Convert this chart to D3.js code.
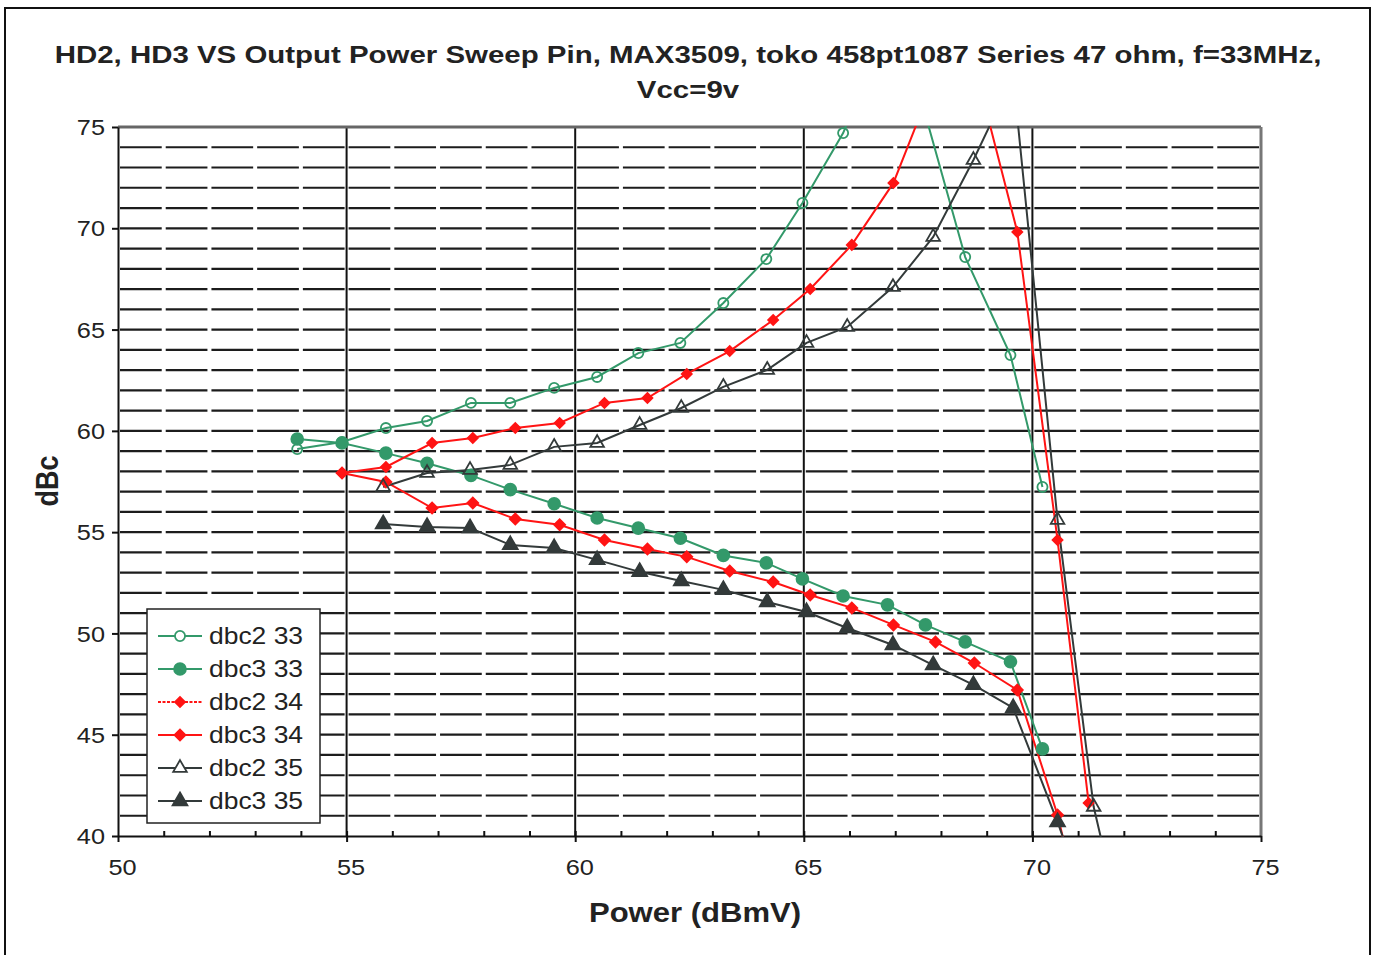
<!DOCTYPE html>
<html>
<head>
<meta charset="utf-8">
<title>HD2, HD3 vs Output Power</title>
<script src="https://cdn.jsdelivr.net/npm/d3@7/dist/d3.min.js"></script>
<style>
	body { margin: 0; background: #fff; }
	text { font-family: "Liberation Sans", Arial, sans-serif; fill: #222; }
	.title, .axis-title { font-weight: bold; }
</style>
</head>
<body>
<script>
// ---- data ----
var titleLines = ["HD2, HD3 VS Output Power Sweep Pin, MAX3509, toko 458pt1087 Series 47 ohm, f=33MHz,", "Vcc=9v"];
var xTicks = [50, 55, 60, 65, 70, 75];
var yTicks = [40, 45, 50, 55, 60, 65, 70, 75];

var pwr33 = [53.92, 54.90, 55.86, 56.76, 57.72, 58.58, 59.54, 60.48, 61.38, 62.30, 63.24, 64.18, 64.97, 65.86, 66.83, 67.66, 68.53, 69.52, 70.22];
var dbc2_33 = [59.1, 59.45, 60.14, 60.49, 61.38, 61.38, 62.12, 62.66, 63.84, 64.34, 66.31, 68.48, 71.25, 74.70, 80.0, 75.6, 68.58, 63.74, 57.23];
var dbc3_33 = [59.6, 59.4, 58.9, 58.4, 57.8, 57.1, 56.4, 55.7, 55.2, 54.7, 53.85, 53.48, 52.69, 51.85, 51.41, 50.42, 49.58, 48.6, 44.3];

var pwr34 = [54.90, 55.86, 56.87, 57.76, 58.69, 59.66, 60.64, 61.58, 62.44, 63.38, 64.33, 65.14, 66.05, 66.96, 67.88, 68.73, 69.67, 70.55, 71.23];
var dbc2_34 = [57.92, 58.22, 59.40, 59.65, 60.14, 60.39, 61.38, 61.62, 62.81, 63.94, 65.47, 67.00, 69.18, 72.24, 77.5, 78.1, 69.82, 54.61, 41.63];
var dbc3_34 = [57.92, 57.48, 56.19, 56.44, 55.65, 55.36, 54.61, 54.17, 53.78, 53.08, 52.54, 51.90, 51.26, 50.42, 49.58, 48.54, 47.21, 41.04, 34.6];

var pwr35 = [55.80, 56.76, 57.70, 58.58, 59.54, 60.48, 61.41, 62.32, 63.24, 64.20, 65.06, 65.95, 66.95, 67.83, 68.71, 69.58, 70.55, 71.34, 72.1];
var dbc2_35 = [57.23, 57.92, 58.07, 58.32, 59.21, 59.40, 60.29, 61.13, 62.17, 63.01, 64.34, 65.13, 67.10, 69.57, 73.37, 77.5, 55.6, 41.44, 34.1];
var dbc3_35 = [55.4, 55.26, 55.2, 54.37, 54.22, 53.63, 53.04, 52.59, 52.15, 51.55, 51.06, 50.27, 49.43, 48.44, 47.46, 46.32, 40.69, 35.7];

var seriesNames = ["dbc2 33", "dbc3 33", "dbc2 34", "dbc3 34", "dbc2 35", "dbc3 35"];

// ---- layout ----
var width = 1373, height = 955;
var mLeft = 118, mRight = 1261, mTop = 127, mBottom = 836;
var sx = 1.15; // glyphs in the picture are a bit wider than the font

var green = "#33996a", red = "#ff1414", dark = "#333a3a";

var series = [
	{ name: seriesNames[0], x: pwr33, y: dbc2_33, color: green, shape: "circle", open: true, size: 80, legendDash: null },
	{ name: seriesNames[1], x: pwr33, y: dbc3_33, color: green, shape: "circle", open: false, size: 110, legendDash: null },
	{ name: seriesNames[2], x: pwr34, y: dbc2_34, color: red, shape: "diamond", open: false, size: 50, legendDash: "3,1.5" },
	{ name: seriesNames[3], x: pwr34, y: dbc3_34, color: red, shape: "diamond", open: false, size: 60, legendDash: null },
	{ name: seriesNames[4], x: pwr35, y: dbc2_35, color: dark, shape: "triangle", open: true, size: 80, legendDash: null },
	{ name: seriesNames[5], x: pwr35, y: dbc3_35, color: dark, shape: "triangle", open: false, size: 95, legendDash: null }
];

var svg = d3.select("body").append("svg")
	.attr("width", width)
	.attr("height", height);

// outer frame
svg.append("rect")
	.attr("x", 5).attr("y", 8)
	.attr("width", 1365).attr("height", 965)
	.attr("fill", "none")
	.attr("stroke", "#111")
	.attr("stroke-width", 2);

var xScale = d3.scaleLinear().domain([50, 75]).range([mLeft, mRight]);
var yScale = d3.scaleLinear().domain([40, 75]).range([mBottom, mTop]);

// ---- grid ----
var step = xScale(51) - xScale(50);
svg.append("g").attr("class", "hgrid")
	.selectAll("line")
	.data(d3.range(41, 75))
	.enter()
	.append("line")
	.attr("x1", xScale(50))
	.attr("x2", xScale(75))
	.attr("y1", function (d) { return yScale(d); })
	.attr("y2", function (d) { return yScale(d); })
	.attr("stroke", "#1c1c1c")
	.attr("stroke-width", 2.2)
	.attr("stroke-dasharray", (step - 4) + "," + 4)
	.attr("stroke-dashoffset", step - 2);

svg.append("g").selectAll("line")
	.data([55, 60, 65, 70])
	.enter()
	.append("line")
	.attr("x1", function (d) { return xScale(d); })
	.attr("x2", function (d) { return xScale(d); })
	.attr("y1", yScale(75))
	.attr("y2", yScale(40))
	.attr("stroke", "#111")
	.attr("stroke-width", 2);

// top and right border of the plot
svg.append("line")
	.attr("x1", xScale(50)).attr("x2", xScale(75))
	.attr("y1", yScale(75)).attr("y2", yScale(75))
	.attr("stroke", "#666").attr("stroke-width", 3);
svg.append("line")
	.attr("x1", xScale(75)).attr("x2", xScale(75))
	.attr("y1", yScale(75)).attr("y2", yScale(40))
	.attr("stroke", "#777").attr("stroke-width", 3);

// ---- axes ----
var xAxisMinor = d3.axisBottom(xScale)
	.tickValues(d3.range(51, 75))
	.tickSize(-5)
	.tickFormat("");
var xAxisG = svg.append("g")
	.attr("transform", "translate(0," + mBottom + ")");
xAxisG.call(xAxisMinor);
xAxisG.select(".domain").remove();
xAxisG.selectAll("line").attr("stroke", "#111").attr("stroke-width", 2);

var xAxis = d3.axisBottom(xScale)
	.tickValues(xTicks)
	.tickSize(6)
	.tickSizeOuter(0)
	.tickFormat(d3.format("d"));
var xAxisMajor = svg.append("g")
	.attr("transform", "translate(0," + mBottom + ")")
	.call(xAxis);
xAxisMajor.select(".domain").attr("stroke", "#111").attr("stroke-width", 2);
xAxisMajor.selectAll("line").attr("stroke", "#111").attr("stroke-width", 2);
xAxisMajor.selectAll("text")
	.attr("y", 0).attr("dy", 0)
	.attr("transform", "translate(4,39) scale(" + sx + ",1)")
	.attr("font-size", "22px")
	.attr("fill", "#222");

var yAxis = d3.axisLeft(yScale)
	.tickValues(yTicks)
	.tickSize(6)
	.tickSizeOuter(0)
	.tickFormat(d3.format("d"));
var yAxisG = svg.append("g")
	.attr("transform", "translate(" + mLeft + ",0)")
	.call(yAxis);
yAxisG.select(".domain").attr("stroke", "#111").attr("stroke-width", 2);
yAxisG.selectAll("line").attr("stroke", "#111").attr("stroke-width", 2);
yAxisG.selectAll("text")
	.attr("x", 0).attr("dy", "0.35em")
	.attr("transform", "translate(-13,0) scale(" + sx + ",1)")
	.attr("text-anchor", "end")
	.attr("font-size", "22px")
	.attr("fill", "#222");
svg.selectAll(".tick text").attr("font-family", null);

// ---- series ----
svg.append("clipPath").attr("id", "plotClip")
	.append("rect")
	.attr("x", mLeft).attr("y", mTop - 1)
	.attr("width", mRight - mLeft).attr("height", mBottom - mTop + 2);

var plot = svg.append("g").attr("clip-path", "url(#plotClip)");

// diamonds are drawn as squares turned 45 degrees
var shapes = { circle: d3.symbolCircle, diamond: d3.symbolSquare, triangle: d3.symbolTriangle };
function turn(s) { return s.shape === "diamond" ? " rotate(45)" : ""; }

function pointsOf(s) {
	return s.y.map(function (v, i) { return [s.x[i], v]; });
}

var line = d3.line()
	.x(function (d) { return xScale(d[0]); })
	.y(function (d) { return yScale(d[1]); });

series.forEach(function (s) {
	plot.append("path")
		.datum(pointsOf(s))
		.attr("d", line)
		.attr("fill", "none")
		.attr("stroke", s.color)
		.attr("stroke-width", 2);
});

series.forEach(function (s) {
	plot.append("g").selectAll("path")
		.data(pointsOf(s))
		.enter()
		.append("path")
		.attr("d", d3.symbol().type(shapes[s.shape]).size(s.size))
		.attr("transform", function (d) {
			return "translate(" + xScale(d[0]) + "," + yScale(d[1]) + ")" + turn(s);
		})
		.attr("fill", s.open ? "#fff" : s.color)
		.attr("fill-opacity", s.open ? 0 : 1)
		.attr("stroke", s.color)
		.attr("stroke-width", 1.8);
});

// ---- legend ----
var legend = svg.append("g").attr("class", "legend");
legend.append("rect")
	.attr("x", 147).attr("y", 609)
	.attr("width", 173).attr("height", 214)
	.attr("fill", "#fff")
	.attr("stroke", "#222")
	.attr("stroke-width", 1.5);

var rowY = d3.scaleLinear().domain([0, 5]).range([636, 801]);
legend.selectAll("g.item")
	.data(series)
	.enter()
	.append("g")
	.attr("class", "item")
	.each(function (s, i) {
		var g = d3.select(this);
		var y = rowY(i);
		g.append("line")
			.attr("x1", 158).attr("x2", 202)
			.attr("y1", y).attr("y2", y)
			.attr("stroke", s.color)
			.attr("stroke-width", 2)
			.attr("stroke-dasharray", s.legendDash);
		g.append("path")
			.attr("d", d3.symbol().type(shapes[s.shape]).size(s.size))
			.attr("transform", "translate(180," + y + ")" + turn(s))
			.attr("fill", s.open ? "#fff" : s.color)
			.attr("stroke", s.color)
			.attr("stroke-width", 1.8);
		g.append("text")
			.attr("transform", "translate(209," + (y + 8) + ") scale(" + sx + ",1)")
			.attr("font-size", "23px")
			.text(s.name);
	});

// ---- titles ----
svg.selectAll("text.title")
	.data(titleLines)
	.enter()
	.append("text")
	.attr("class", "title")
	.attr("transform", function (d, i) {
		return "translate(688," + (63 + i * 35) + ") scale(1.28,1)";
	})
	.attr("text-anchor", "middle")
	.attr("font-size", "23px")
	.text(function (d) { return d; });

svg.append("text")
	.attr("class", "axis-title")
	.attr("transform", "translate(695,922) scale(" + sx + ",1)")
	.attr("text-anchor", "middle")
	.attr("font-size", "27px")
	.text("Power (dBmV)");

svg.append("text")
	.attr("class", "axis-title")
	.attr("transform", "translate(58,481) scale(" + sx + ",1) rotate(-90)")
	.attr("text-anchor", "middle")
	.attr("font-size", "27px")
	.text("dBc");
</script>
</body>
</html>
